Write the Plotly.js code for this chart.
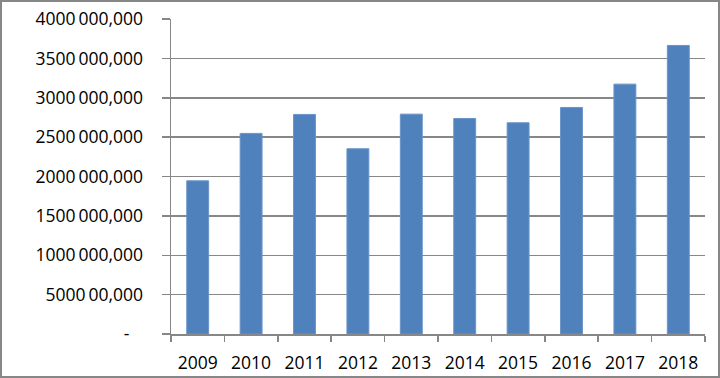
<!DOCTYPE html>
<html>
<head>
<meta charset="utf-8">
<script src="https://cdn.plot.ly/plotly-3.0.1.min.js"></script>
<style>
html,body{margin:0;padding:0;background:#fff;}
#chart{width:716px;height:374px;border:2px solid #878787;}
</style>
</head>
<body>
<div id="chart"></div>
<script>
const years = ["2009","2010","2011","2012","2013","2014","2015","2016","2017","2018"];
const values = [1945e6, 2547e6, 2788e6, 2352e6, 2792e6, 2737e6, 2682e6, 2877e6, 3173e6, 3664e6];
const tickVals = [0, 500e6, 1000e6, 1500e6, 2000e6, 2500e6, 3000e6, 3500e6, 4000e6];
const tickText = ["-\u00a0\u00a0\u00a0", "5000\u200900,000", "1000\u2009000,000", "1500\u2009000,000", "2000\u2009000,000",
                  "2500\u2009000,000", "3000\u2009000,000", "3500\u2009000,000", "4000\u2009000,000"];

const trace = {
  type: "bar",
  x: years,
  y: values,
  marker: {color: "#4F81BD", line: {color: "#6A93C8", width: 1}},
  hoverinfo: "x+y"
};

const layout = {
  width: 716, height: 374,
  margin: {l: 169, r: 13, t: 17, b: 42},
  paper_bgcolor: "#fff", plot_bgcolor: "#fff",
  font: {family: "Open Sans, sans-serif", size: 17.5, color: "#000"},
  bargap: 0.59,
  showlegend: false,
  xaxis: {
    type: "category",
    showline: true, linecolor: "#878787", linewidth: 1.5,
    ticks: "outside", ticklen: 6, tickcolor: "#878787", tickwidth: 1.5,
    tickson: "boundaries",
    ticklabelstandoff: 12,
    showgrid: false,
    fixedrange: true
  },
  yaxis: {
    range: [0, 4000e6],
    tickvals: tickVals, ticktext: tickText,
    showline: true, linecolor: "#878787", linewidth: 1.5,
    ticks: "outside", ticklen: 8, tickcolor: "#878787", tickwidth: 1.5,
    showgrid: true, gridcolor: "#878787", gridwidth: 1.5,
    zeroline: false,
    ticklabelstandoff: 15,
    fixedrange: true
  }
};

Plotly.newPlot("chart", [trace], layout, {displayModeBar: false, staticPlot: true});
</script>
</body>
</html>
